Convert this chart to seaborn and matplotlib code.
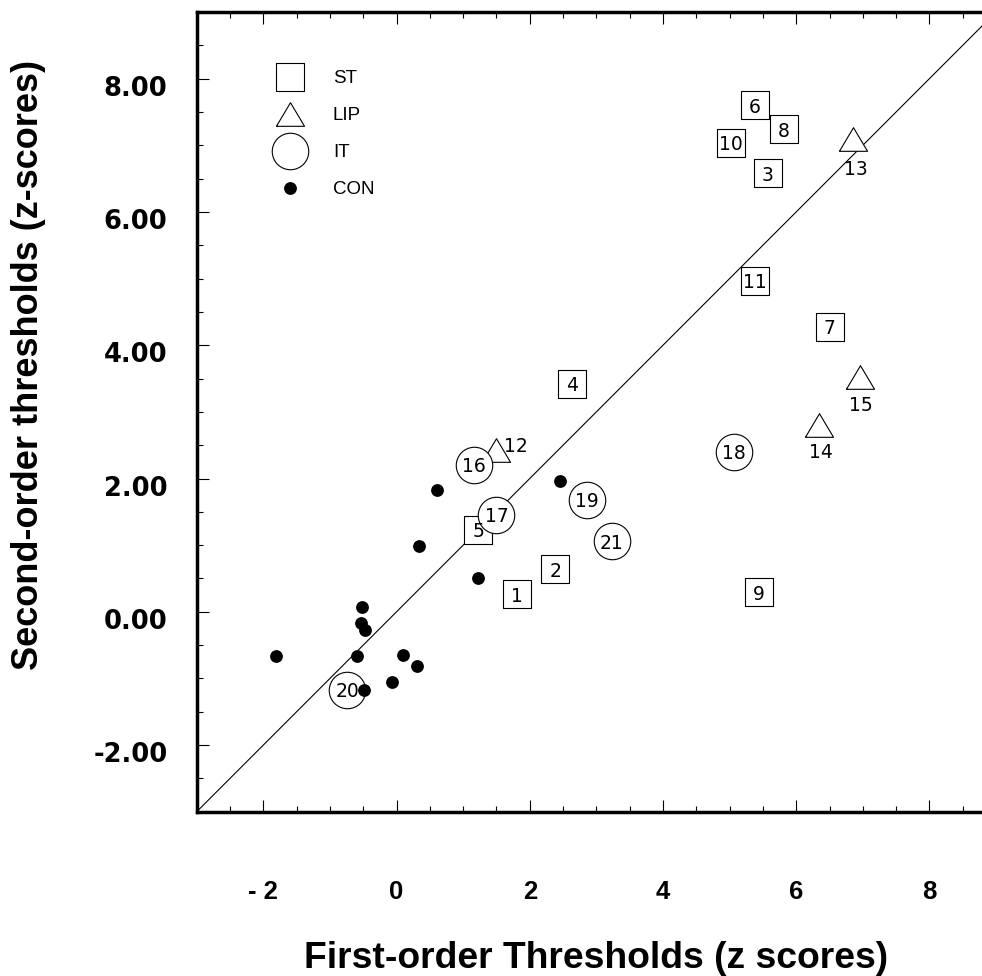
import numpy as np
import pandas as pd
import matplotlib
matplotlib.use("Agg")
import matplotlib.pyplot as plt
import seaborn as sns
from matplotlib.ticker import MultipleLocator
from matplotlib.transforms import ScaledTranslation

# ---------------- data ----------------
st_ids = [1, 2, 3, 4, 5, 6, 7, 8, 9, 10, 11]
st_x = [1.81, 2.38, 5.57, 2.63, 1.23, 5.38, 6.50, 5.81, 5.44, 5.02, 5.38]
st_y = [0.26, 0.64, 6.58, 3.42, 1.23, 7.60, 4.28, 7.24, 0.29, 7.04, 4.97]

lip_ids = [12, 13, 14, 15]
lip_x = [1.49, 6.86, 6.34, 6.96]
lip_y = [2.43, 7.09, 2.81, 3.52]

it_ids = [16, 17, 18, 19, 20, 21]
it_x = [1.16, 1.50, 5.07, 2.86, -0.74, 3.23]
it_y = [2.21, 1.46, 2.40, 1.68, -1.17, 1.06]

con_x = [-1.81, -0.60, -0.52, -0.53, -0.48, -0.49, -0.07, 0.09, 0.30, 0.33, 0.61, 1.23, 2.45]
con_y = [-0.67, -0.67, 0.07, -0.17, -0.28, -1.17, -1.05, -0.65, -0.82, 0.98, 1.83, 0.51, 1.97]

group_names = ["ST", "LIP", "IT", "CON"]
x_ticks = [-2, 0, 2, 4, 6, 8]
x_ticklabels = ["- 2", "0", "2", "4", "6", "8"]
y_ticks = [-2, 0, 2, 4, 6, 8]
y_ticklabels = ["-2.00", "0.00", "2.00", "4.00", "6.00", "8.00"]
x_label = "First-order Thresholds (z scores)"
y_label = "Second-order thresholds (z-scores)"

# ---------------- style ----------------
sns.set_style("ticks")
plt.rcParams["font.family"] = ["Liberation Sans", "DejaVu Sans"]
plt.rcParams["text.color"] = "black"
plt.rcParams["axes.labelcolor"] = "black"
plt.rcParams["xtick.color"] = "black"
plt.rcParams["ytick.color"] = "black"
plt.rcParams["axes.edgecolor"] = "black"

fig = plt.figure(figsize=(9.82, 9.76), dpi=100)
ax = fig.add_axes([0.2003, 0.1683, 0.8140, 0.8194])
ax.set_xlim(-3, 9)
ax.set_ylim(-3, 9)

# identity line
ax.axline((0, 0), slope=1, color="black", lw=0.8, zorder=1)

kw = dict(facecolor="white", edgecolor="black", linewidth=0.8)
tri = [(-1, -0.84), (1, -0.84), (0, 0.84), (-1, -0.84)]
sns.scatterplot(x=lip_x, y=lip_y, marker=tri, s=410, ax=ax, label="LIP", zorder=2, **kw)
sns.scatterplot(x=st_x, y=st_y, marker="s", s=400, ax=ax, label="ST", zorder=3, **kw)
sns.scatterplot(x=it_x, y=it_y, marker="o", s=690, ax=ax, label="IT", zorder=4, **kw)
sns.scatterplot(x=con_x, y=con_y, marker="o", s=85, ax=ax, label="CON", zorder=6,
                color="black", edgecolor="black", linewidth=0)

num_kw = dict(ha="center", va="center_baseline", fontsize=13.5, family="DejaVu Sans",
              color="black", zorder=7)
for i, x, y in zip(st_ids, st_x, st_y):
    ax.annotate(str(i), (x, y), **num_kw)
for i, x, y in zip(it_ids, it_x, it_y):
    ax.annotate(str(i), (x, y), **num_kw)
# triangle labels: first one to the upper right, the rest beneath
tri_offsets = [(6, 4), (1.4, -20), (1.4, -18.5), (0.7, -18.7)]
tri_ha = ["left", "center", "center", "center"]
for i, x, y, off, ha in zip(lip_ids, lip_x, lip_y, tri_offsets, tri_ha):
    ax.annotate(str(i), (x, y), xytext=off, textcoords="offset points",
                ha=ha, va="center_baseline", fontsize=13.5, family="DejaVu Sans",
                color="black", zorder=7)

# ticks
ax.set_xticks(x_ticks, x_ticklabels)
ax.set_yticks(y_ticks, y_ticklabels)
ax.xaxis.set_minor_locator(MultipleLocator(0.5))
ax.yaxis.set_minor_locator(MultipleLocator(0.5))
ax.tick_params(which="both", direction="in", top=True, bottom=True, left=True, right=False,
               width=0.8, color="black", labelcolor="black")
ax.tick_params(which="major", length=8.6)
ax.tick_params(which="minor", length=4.6)
ax.tick_params(axis="x", which="major", pad=49, labelsize=18.5)
ax.tick_params(axis="y", which="major", pad=21, labelsize=18.5)
for lab in ax.get_xticklabels():
    lab.set_fontweight("bold")
    lab.set_family(["Liberation Sans", "DejaVu Sans"])
for lab in ax.get_yticklabels():
    lab.set_fontweight("bold")
    lab.set_family("DejaVu Sans")
    lab.set_transform(lab.get_transform() + ScaledTranslation(0, -0.07, fig.dpi_scale_trans))

for side in ["left", "bottom", "top"]:
    ax.spines[side].set_linewidth(2.5)
    ax.spines[side].set_color("black")
ax.spines["right"].set_visible(False)

ax.set_xlabel(x_label, fontsize=26.8, fontweight="bold", va="baseline", color="black")
ax.xaxis.set_label_coords(0.5, -0.1953)
ax.set_ylabel(y_label, fontsize=26, fontweight="bold", va="center", color="black")
ax.yaxis.set_label_coords(-0.211, 0.5586)

handles = {c.get_label(): c for c in ax.collections}
ax.legend([handles[n] for n in group_names], group_names, loc="upper left",
          bbox_to_anchor=(0.276, 0.928), bbox_transform=fig.transFigure, frameon=False,
          fontsize=13.5, borderpad=0, borderaxespad=0, handlelength=2, handletextpad=1.3,
          labelspacing=1.05, scatterpoints=1, scatteryoffsets=[0.45])

fig.savefig("out.png", dpi=100)
